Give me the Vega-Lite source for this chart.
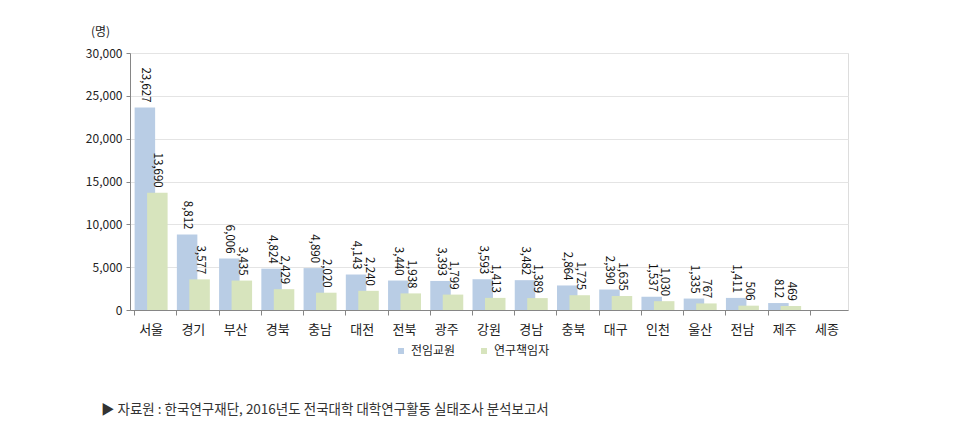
{
  "$schema": "https://vega.github.io/schema/vega-lite/v6.json",
  "width": 718,
  "height": 257,
  "autosize": {"type": "none"},
  "padding": {"left": 130, "top": 53, "right": 105, "bottom": 116},
  "background": "white",
  "title": {
    "text": "▶ 자료원 : 한국연구재단, 2016년도 전국대학 대학연구활동 실태조사 분석보고서",
    "orient": "bottom",
    "anchor": "start",
    "frame": "group",
    "dx": -29,
    "offset": 46,
    "font": "Noto Sans CJK KR",
    "fontSize": 13.5,
    "fontWeight": "normal",
    "color": "#333333"
  },
  "data": {
    "values": [
      {"region": "서울", "series": "전임교원", "value": 23627},
      {"region": "서울", "series": "연구책임자", "value": 13690},
      {"region": "경기", "series": "전임교원", "value": 8812},
      {"region": "경기", "series": "연구책임자", "value": 3577},
      {"region": "부산", "series": "전임교원", "value": 6006},
      {"region": "부산", "series": "연구책임자", "value": 3435},
      {"region": "경북", "series": "전임교원", "value": 4824},
      {"region": "경북", "series": "연구책임자", "value": 2429},
      {"region": "충남", "series": "전임교원", "value": 4890},
      {"region": "충남", "series": "연구책임자", "value": 2020},
      {"region": "대전", "series": "전임교원", "value": 4143},
      {"region": "대전", "series": "연구책임자", "value": 2240},
      {"region": "전북", "series": "전임교원", "value": 3440},
      {"region": "전북", "series": "연구책임자", "value": 1938},
      {"region": "광주", "series": "전임교원", "value": 3393},
      {"region": "광주", "series": "연구책임자", "value": 1799},
      {"region": "강원", "series": "전임교원", "value": 3593},
      {"region": "강원", "series": "연구책임자", "value": 1413},
      {"region": "경남", "series": "전임교원", "value": 3482},
      {"region": "경남", "series": "연구책임자", "value": 1389},
      {"region": "충북", "series": "전임교원", "value": 2864},
      {"region": "충북", "series": "연구책임자", "value": 1725},
      {"region": "대구", "series": "전임교원", "value": 2390},
      {"region": "대구", "series": "연구책임자", "value": 1635},
      {"region": "인천", "series": "전임교원", "value": 1537},
      {"region": "인천", "series": "연구책임자", "value": 1030},
      {"region": "울산", "series": "전임교원", "value": 1335},
      {"region": "울산", "series": "연구책임자", "value": 767},
      {"region": "전남", "series": "전임교원", "value": 1411},
      {"region": "전남", "series": "연구책임자", "value": 506},
      {"region": "제주", "series": "전임교원", "value": 812},
      {"region": "제주", "series": "연구책임자", "value": 469},
      {"region": "세종", "series": "전임교원", "value": null},
      {"region": "세종", "series": "연구책임자", "value": null}
    ]
  },
  "encoding": {
    "x": {
      "field": "region",
      "type": "nominal",
      "sort": null,
      "scale": {"domain": ["서울","경기","부산","경북","충남","대전","전북","광주","강원","경남","충북","대구","인천","울산","전남","제주","세종"], "paddingInner": 0.22, "paddingOuter": 0.11},
      "axis": {
        "title": null,
        "labelAngle": 0,
        "labelFont": "Noto Sans CJK KR",
        "labelFontSize": 13,
        "labelColor": "#222222",
        "labelPadding": 8,
        "bandPosition": 0,
        "tickSize": 5,
        "tickColor": "#868686",
        "domainColor": "#868686",
        "grid": false
      }
    },
    "xOffset": {
      "field": "series",
      "type": "nominal",
      "sort": ["전임교원", "연구책임자"],
      "scale": {"paddingOuter": 0.32}
    },
    "y": {
      "field": "value",
      "type": "quantitative",
      "scale": {"domain": [0, 30000]},
      "axis": {
        "title": "(명)",
        "titleAngle": 0,
        "titleX": -30,
        "titleY": -22,
        "titleAlign": "center",
        "titleBaseline": "middle",
        "titleFont": "Noto Sans CJK KR",
        "titleFontSize": 12,
        "titleFontWeight": "normal",
        "titleColor": "#222222",
        "values": [0, 5000, 10000, 15000, 20000, 25000, 30000],
        "format": ",d",
        "labelFont": "Noto Sans CJK KR",
        "labelFontSize": 12,
        "labelColor": "#222222",
        "labelPadding": 4,
        "tickSize": 4,
        "tickColor": "#868686",
        "domainColor": "#868686",
        "gridColor": "#e4e4e4",
        "gridWidth": 1
      }
    }
  },
  "layer": [
    {
      "mark": {"type": "bar", "width": 20.5},
      "encoding": {
        "color": {
          "field": "series",
          "type": "nominal",
          "sort": ["전임교원", "연구책임자"],
          "scale": {"domain": ["전임교원", "연구책임자"], "range": ["#b9cde5", "#d7e4bd"]},
          "legend": {
            "title": null,
            "orient": "none",
            "legendX": 265,
            "legendY": 292,
            "direction": "horizontal",
            "symbolType": "square",
            "symbolSize": 36,
            "symbolStrokeWidth": 0,
            "labelFont": "Noto Sans CJK KR",
            "labelFontSize": 12,
            "labelColor": "#222222",
            "columnPadding": 22,
            "labelOffset": 4
          }
        }
      }
    },
    {
      "mark": {
        "type": "text",
        "angle": 90,
        "align": "right",
        "baseline": "middle",
        "dx": -5,
        "font": "Noto Sans CJK KR",
        "fontSize": 11.5,
        "color": "#111111"
      },
      "encoding": {
        "text": {"field": "value", "type": "quantitative", "format": ",d"}
      }
    }
  ]
}
